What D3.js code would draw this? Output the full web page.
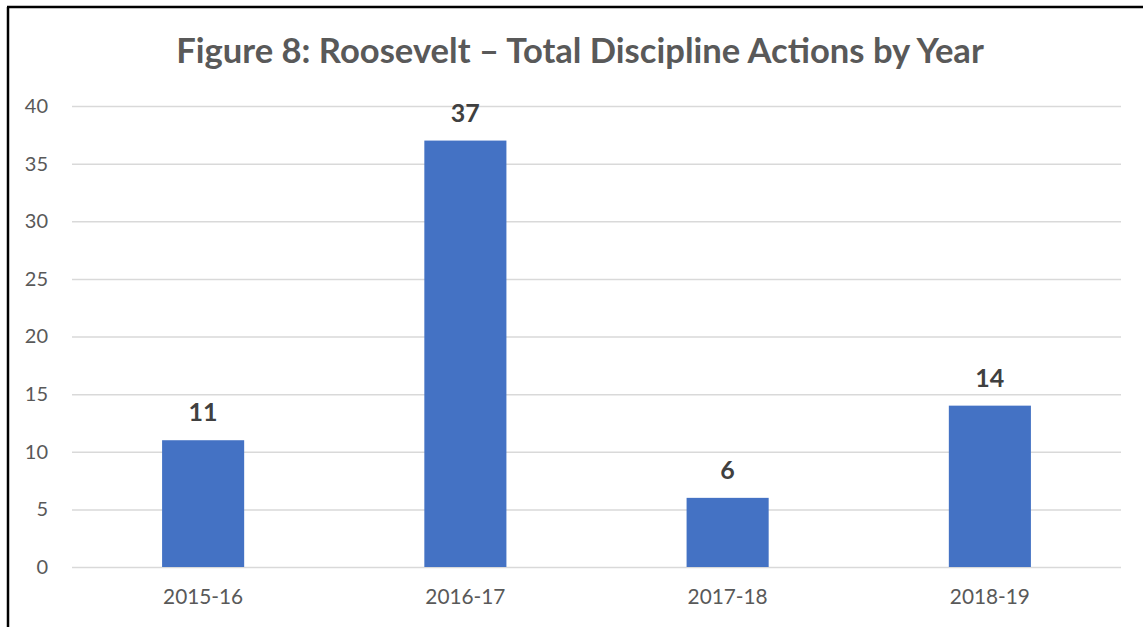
<!DOCTYPE html>
<html><head><meta charset="utf-8">
<script src="https://cdn.jsdelivr.net/npm/d3@7"></script>
<style>html,body{margin:0;padding:0;background:#fff;}</style>
</head><body>
<svg id="c" width="1143" height="627"></svg>
<script>
const categories = ["2015-16", "2016-17", "2017-18", "2018-19"];
const values = [11, 37, 6, 14];
const yTicks = [0, 5, 10, 15, 20, 25, 30, 35, 40];
const title = "Figure 8: Roosevelt \u2013 Total Discipline Actions by Year";

(function () {
const svg = d3.select("#c");
const W = 1143, H = 627;
svg.append("rect").attr("width", W).attr("height", H).attr("fill", "#fff");
svg.append("line").attr("x1", 8).attr("x2", 8).attr("y1", 7).attr("y2", H).attr("stroke", "#000").attr("stroke-width", 2.5);
svg.append("line").attr("x1", 7).attr("x2", W).attr("y1", 7).attr("y2", 7).attr("stroke", "#000").attr("stroke-width", 2.5);

const mL = 72, mR = 1121, mT = 106, mB = 567;
const x = d3.scaleBand().domain(categories).range([mL, mR]).padding(0);
const y = d3.scaleLinear().domain([0, 40]).range([mB, mT]);
const FF = "Lato, 'Open Sans', sans-serif";

svg.append("text").attr("x", 580).attr("y", 63).attr("text-anchor", "middle")
  .attr("font-family", FF).attr("font-weight", "bold")
  .attr("font-size", 34.6).attr("fill", "#595959").text(title);

const yAxis = d3.axisLeft(y).tickValues(yTicks).tickSize(-(mR - mL)).tickPadding(24);
const gy = svg.append("g").attr("transform", `translate(${mL},0)`).call(yAxis);
gy.select(".domain").remove();
gy.selectAll(".tick line").attr("stroke", "#d9d9d9").attr("stroke-width", 1.5);
gy.selectAll(".tick text").attr("font-family", FF).attr("font-size", 20).attr("fill", "#595959");

const xAxis = d3.axisBottom(x).tickSize(0).tickPadding(22);
const gx = svg.append("g").attr("transform", `translate(0,${mB})`).call(xAxis);
gx.select(".domain").remove();
gx.selectAll(".tick text").attr("font-family", FF).attr("font-size", 20.8).attr("fill", "#595959");

const bw = x.bandwidth() * 0.313;
const data = categories.map((c, i) => ({c, v: values[i]}));
svg.selectAll(".bar").data(data).enter().append("rect")
  .attr("x", d => x(d.c) + x.bandwidth() / 2 - bw / 2)
  .attr("width", bw)
  .attr("y", d => y(d.v))
  .attr("height", d => y(0) - y(d.v))
  .attr("fill", "#4472c4");

svg.selectAll(".lbl").data(data).enter().append("text")
  .attr("x", d => x(d.c) + x.bandwidth() / 2)
  .attr("y", d => y(d.v) - 19)
  .attr("text-anchor", "middle")
  .attr("font-family", FF).attr("font-weight", "bold")
  .attr("font-size", 25).attr("fill", "#404040").text(d => d.v);
})();
</script>
</body></html>
